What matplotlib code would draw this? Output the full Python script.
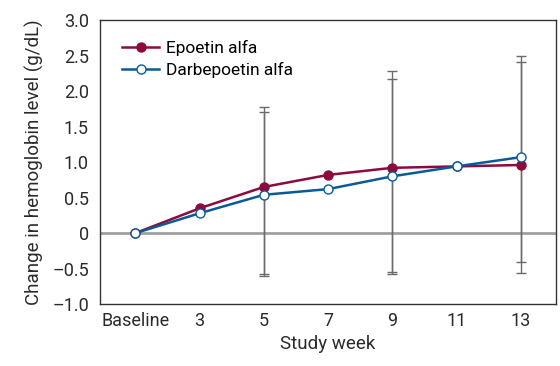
import matplotlib.pyplot as plt
import numpy as np

plt.rcParams['font.family'] = ['Roboto', 'DejaVu Sans']

weeks = ['Baseline', '3', '5', '7', '9', '11', '13']
epoetin = [0.0, 0.35, 0.65, 0.82, 0.92, 0.94, 0.96]
darbepoetin = [0.0, 0.28, 0.54, 0.62, 0.80, 0.94, 1.07]

# error bars (lower, upper) at weeks 5, 9, 13
err_idx = [2, 4, 6]
epo_low = [-0.58, -0.55, -0.41]
epo_high = [1.77, 2.28, 2.41]
darb_low = [-0.61, -0.58, -0.56]
darb_high = [1.70, 2.17, 2.50]

yticks = [3.0, 2.5, 2.0, 1.5, 1.0, 0.5, 0, -0.5, -1.0]
ytick_labels = ['3.0', '2.5', '2.0', '1.5', '1.0', '0.5', '0', '–0.5', '–1.0']

red = '#8C0A3C'
blue = '#0A5A9A'
grey = '#6A6A6A'
txt = '#2A2A2A'


def main():
    fig = plt.figure(figsize=(5.6, 3.66), dpi=100)
    ax = fig.add_axes([0.1786, 0.169, 0.8144, 0.776])
    x = np.arange(len(weeks))

    ax.axhline(0, color='#A0A0A0', lw=2, zorder=1)

    for low, high in ((epo_low, epo_high), (darb_low, darb_high)):
        xe = x[err_idx]
        ax.vlines(xe, low, high, color=grey, lw=1.0, zorder=2)
        ax.hlines(low, xe - 0.08, xe + 0.08, color=grey, lw=1.0, zorder=2)
        ax.hlines(high, xe - 0.08, xe + 0.08, color=grey, lw=1.0, zorder=2)

    ax.plot(x, epoetin, '-o', color=red, lw=1.8, ms=6.5, mfc=red, mec=red,
            label='Epoetin alfa', zorder=3)
    ax.plot(x, darbepoetin, '-o', color=blue, lw=1.8, ms=6.5, mfc='white',
            mec=blue, mew=1.0, label='Darbepoetin alfa', zorder=4)

    ax.set_xlim(-0.55, 6.55)
    ax.set_ylim(-1.0, 3.0)
    ax.set_xticks(x)
    ax.set_xticklabels(weeks)
    ax.set_yticks(yticks)
    ax.set_yticklabels(ytick_labels)
    ax.tick_params(length=0, labelsize=13, colors=txt, pad=8)
    ax.tick_params(axis='x', pad=6)

    for s in ax.spines.values():
        s.set_color('#333333')
        s.set_linewidth(1.0)

    ax.set_xlabel('Study week', fontsize=13.5, color=txt, labelpad=3)
    ax.set_ylabel('Change in hemoglobin level (g/dL)', fontsize=13.5,
                  color=txt, labelpad=6)

    ax.legend(loc='upper left', bbox_to_anchor=(0.015, 0.985), frameon=False,
              fontsize=12.5, handlelength=2.1, labelspacing=0.35,
              handletextpad=0.4)

    fig.savefig('out.png', dpi=100)


if __name__ == '__main__':
    main()
